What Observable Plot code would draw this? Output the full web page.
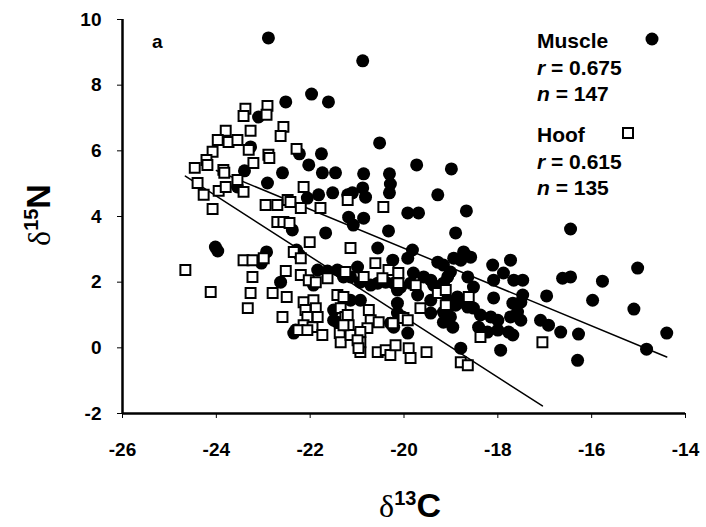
<!DOCTYPE html>
<html><head><meta charset="utf-8">
<script src="https://cdn.jsdelivr.net/npm/d3@7"></script>
<script src="https://cdn.jsdelivr.net/npm/@observablehq/plot@0.6"></script>
<style>
body{margin:0;background:#fff;}
#chart svg{display:block;}
</style></head><body><div id="chart"></div>
<script>
// Muscle: [δ13C, δ15N]
const muscle = [
[-22.89,9.44],[-20.88,8.74],[-21.97,7.73],[-21.61,7.49],[-22.52,7.49],[-23.10,7.03],[-23.27,6.12],[-22.23,5.91],[-21.76,5.91],[-22.03,5.57],
[-21.74,5.33],[-21.46,5.33],[-22.59,5.33],[-23.40,5.39],[-22.91,5.02],[-23.55,4.90],[-21.82,4.66],[-21.52,4.72],[-22.06,4.56],[-21.20,4.66],
[-20.52,6.24],[-19.73,5.57],[-18.99,5.45],[-20.86,5.30],[-20.31,5.30],[-20.29,4.99],[-20.31,4.72],[-19.28,4.66],[-20.88,4.87],[-21.10,4.72],
[-20.82,4.59],[-19.92,4.11],[-19.69,4.11],[-18.67,4.17],[-16.45,3.62],[-21.18,3.98],[-20.86,3.95],[-21.08,3.74],[-20.33,3.56],[-18.90,3.50],
[-20.56,3.04],[-19.82,2.98],[-19.92,2.73],[-20.24,2.67],[-18.73,2.92],[-18.58,2.76],[-19.28,2.61],[-19.16,2.52],[-18.94,2.73],[-18.79,2.67],
[-18.11,2.52],[-17.73,2.67],[-17.88,2.28],[-17.66,2.06],[-17.47,2.06],[-16.62,2.12],[-16.45,2.16],[-18.09,2.06],[-18.64,2.16],[-19.80,2.28],
[-19.58,2.16],[-19.43,2.06],[-19.07,2.16],[-19.01,2.31],[-20.56,1.97],[-20.39,2.00],[-20.22,1.97],[-20.07,1.85],[-20.71,1.91],[-20.93,2.00],
[-21.14,2.16],[-21.42,2.37],[-21.29,2.16],[-19.86,1.97],[-19.37,1.91],[-19.16,1.97],[-18.52,1.85],[-18.09,1.52],[-17.68,1.36],[-17.47,1.61],
[-16.96,1.58],[-19.71,1.61],[-19.43,1.45],[-19.07,1.45],[-18.90,1.30],[-18.75,1.39],[-18.64,1.24],[-18.52,1.21],[-20.14,1.36],[-20.14,1.06],
[-19.43,1.06],[-19.16,1.09],[-19.01,0.94],[-18.15,0.94],[-18.00,0.84],[-17.73,0.94],[-17.51,0.84],[-17.58,1.09],[-18.41,0.63],[-18.22,0.48],
[-17.77,0.48],[-17.68,0.39],[-17.09,0.84],[-16.92,0.69],[-16.66,0.48],[-16.30,-0.38],[-17.94,-0.07],[-18.79,-0.01],[-19.92,0.45],[-20.03,0.94],
[-20.29,0.75],[-15.02,2.43],[-15.77,2.03],[-15.98,1.45],[-15.10,1.18],[-16.28,0.42],[-14.40,0.45],[-14.83,-0.04],[-24.02,3.07],[-23.97,2.95],
[-22.38,3.59],[-21.67,3.50],[-22.93,2.92],[-23.04,2.58],[-22.29,2.98],[-22.23,2.83],[-22.63,2.00],[-21.84,2.37],[-21.63,2.34],[-21.93,1.91],
[-21.35,2.31],[-21.50,1.15],[-21.50,0.84],[-22.31,0.54],[-20.99,2.46],[-21.14,1.45],[-20.93,1.45],[-20.22,0.63],[-22.35,0.45],[-21.42,0.78],
[-20.14,1.76],[-19.05,1.24],[-18.86,1.55],[-18.37,1.00],[-17.51,1.39],[-18.96,0.63],[-19.16,0.78],[-18.00,0.54],[-18.69,2.83]
];
// Hoof: [δ13C, δ15N]
const hoof = [
[-22.91,7.37],[-22.93,7.10],[-23.38,7.28],[-23.42,7.06],[-23.80,6.61],[-23.27,6.61],[-22.57,6.73],[-22.63,6.45],[-23.97,6.33],[-23.74,6.27],
[-23.55,6.33],[-24.08,5.97],[-23.31,6.03],[-22.29,6.06],[-22.89,5.88],[-22.87,5.78],[-24.21,5.72],[-24.19,5.57],[-24.46,5.48],[-23.85,5.42],
[-23.83,5.33],[-23.21,5.63],[-24.40,5.02],[-24.27,4.66],[-23.95,4.78],[-23.80,4.90],[-23.42,4.75],[-22.14,4.90],[-22.48,4.50],[-23.55,5.11],
[-24.08,4.23],[-22.95,4.35],[-22.70,4.35],[-22.42,4.44],[-21.78,4.26],[-22.20,4.26],[-21.20,4.50],[-20.44,4.29],[-22.70,3.83],[-22.57,3.83],
[-22.44,3.80],[-22.01,3.22],[-22.35,2.92],[-22.20,2.73],[-21.14,3.04],[-24.66,2.37],[-24.12,1.70],[-23.42,2.67],[-23.23,2.67],[-22.99,2.73],
[-22.52,2.34],[-23.23,2.16],[-22.20,2.22],[-23.27,1.67],[-23.33,1.21],[-22.80,1.67],[-22.50,1.55],[-22.59,0.94],[-22.14,1.39],[-21.93,1.45],
[-21.88,1.21],[-22.10,1.15],[-22.06,0.94],[-21.84,0.94],[-22.14,0.69],[-21.95,0.63],[-22.25,0.54],[-22.06,0.54],[-21.74,0.39],[-21.42,1.61],
[-21.35,1.21],[-21.25,0.94],[-21.37,0.45],[-21.35,0.17],[-22.03,2.06],[-20.61,2.58],[-20.33,2.37],[-21.88,2.00],[-21.63,2.12],[-21.25,2.31],
[-20.86,2.16],[-20.75,1.15],[-20.71,0.84],[-20.78,0.60],[-20.56,-0.13],[-20.39,-0.07],[-20.29,-0.22],[-20.18,0.08],[-20.12,2.28],[-20.12,1.97],
[-19.75,1.91],[-19.28,1.67],[-19.11,1.76],[-18.62,1.55],[-19.11,1.30],[-19.65,1.21],[-20.01,0.91],[-19.90,-0.01],[-19.86,-0.31],[-19.52,-0.13],
[-18.37,0.33],[-17.05,0.17],[-18.79,-0.44],[-18.64,-0.53],[-20.46,2.12],[-19.92,0.84],[-20.54,0.78],[-20.24,0.75],[-21.18,0.69],[-21.14,0.39],
[-20.93,0.48],[-20.93,0.17],[-20.93,-0.13],[-21.29,1.55],[-21.20,1.00],[-21.29,0.69],[-20.99,0.23],[-20.97,-0.01]
];
// Regression line end points
const muscleFit = [[-24.0, 5.40], [-14.4, -0.28]];
const hoofFit = [[-24.66, 5.23], [-17.05, -1.77]];
const xTicks = [-26, -24, -22, -20, -18, -16, -14];
const yTicks = [-2, 0, 2, 4, 6, 8, 10];
const seriesNames = ["Muscle", "Hoof"];
const seriesR = ["0.675", "0.615"];
const seriesN = ["147", "135"];
const panelLabel = "a";

const toObj = a => a.map(([x, y]) => ({x, y}));
const sans = "'Liberation Sans', Arial, Helvetica, sans-serif";
const serif = "'Liberation Serif', 'Times New Roman', serif";
const tickFont = 19;

const plot = Plot.plot({
  width: 706, height: 527,
  marginLeft: 122, marginRight: 21, marginTop: 19, marginBottom: 114,
  style: {fontFamily: sans, fontSize: tickFont + "px", fontWeight: "bold", color: "#000", background: "#fff", overflow: "visible"},
  x: {domain: [-26, -14]},
  y: {domain: [-2, 10]},
  marks: [
    Plot.axisX({ticks: xTicks, tickSize: 5, tickPadding: 24, label: null, tickFormat: d => String(d),
                fontSize: tickFont, fontWeight: "bold", stroke: "#000", fill: "#000"}),
    Plot.axisY({ticks: yTicks, tickSize: 5, tickPadding: 16, label: null, tickFormat: d => String(d),
                fontSize: tickFont, fontWeight: "bold", stroke: "#000", fill: "#000"}),
    Plot.ruleX([-26], {stroke: "#000", strokeWidth: 2.5}),
    Plot.ruleY([-2], {stroke: "#000", strokeWidth: 2.5}),
    Plot.line(toObj(muscleFit), {x: "x", y: "y", stroke: "#000", strokeWidth: 1.5}),
    Plot.line(toObj(hoofFit), {x: "x", y: "y", stroke: "#000", strokeWidth: 1.5}),
    Plot.dot(toObj(muscle), {x: "x", y: "y", r: 6.5, fill: "#000", stroke: "none"}),
    Plot.dot(toObj(hoof), {x: "x", y: "y", r: 5.6, symbol: "square", fill: "#fff", stroke: "#000", strokeWidth: 2})
  ]
});
document.getElementById("chart").appendChild(plot);

const svgNode = plot.tagName.toLowerCase() === "svg" ? plot : plot.querySelector("svg");
const svg = d3.select(svgNode);

// Tick labels: large and bold
svgNode.querySelectorAll("text").forEach(t => {
  t.setAttribute("font-size", String(tickFont));
  t.setAttribute("font-weight", "bold");
  t.style.fontSize = tickFont + "px";
  t.style.fontWeight = "bold";
  t.style.fontFamily = sans;
});

// Panel label
svg.append("text").attr("x", 152).attr("y", 48).attr("text-anchor", "start").attr("font-family", sans)
  .attr("font-weight", "bold").attr("font-size", 19).attr("fill", "#000").text(panelLabel);

// Y axis title (rotated)
const yl = svg.append("text").attr("transform", "translate(50,215) rotate(-90)")
  .attr("text-anchor", "middle").attr("fill", "#000");
yl.append("tspan").attr("font-family", serif).attr("font-weight", "normal").attr("font-size", 32).text("δ");
yl.append("tspan").attr("font-family", sans).attr("font-weight", "bold").attr("font-size", 20).attr("dy", -12).text("15");
yl.append("tspan").attr("font-family", sans).attr("font-weight", "bold").attr("font-size", 34).attr("dy", 12).text("N");

// X axis title
const xl = svg.append("text").attr("x", 410).attr("y", 517).attr("text-anchor", "middle").attr("fill", "#000");
xl.append("tspan").attr("font-family", serif).attr("font-weight", "normal").attr("font-size", 32).text("δ");
xl.append("tspan").attr("font-family", sans).attr("font-weight", "bold").attr("font-size", 20).attr("dy", -12).text("13");
xl.append("tspan").attr("font-family", sans).attr("font-weight", "bold").attr("font-size", 34).attr("dy", 12).text("C");

// Legend block
const lg = svg.append("g").attr("font-family", sans).attr("font-weight", "bold").attr("font-size", 21)
  .attr("fill", "#000").attr("text-anchor", "start");
const blockTop = [48, 142];
seriesNames.forEach((name, i) => {
  const y0 = blockTop[i];
  lg.append("text").attr("x", 537).attr("y", y0).text(name);
  const r = lg.append("text").attr("x", 537).attr("y", y0 + 27);
  r.append("tspan").attr("font-style", "italic").text("r");
  r.append("tspan").text(" = " + seriesR[i]);
  const n = lg.append("text").attr("x", 537).attr("y", y0 + 53);
  n.append("tspan").attr("font-style", "italic").text("n");
  n.append("tspan").text(" = " + seriesN[i]);
});
svg.append("circle").attr("cx", 652).attr("cy", 39).attr("r", 6.5).attr("fill", "#000");
svg.append("rect").attr("x", 623).attr("y", 128).attr("width", 10).attr("height", 10)
  .attr("fill", "#fff").attr("stroke", "#000").attr("stroke-width", 2);
</script>
</body></html>
